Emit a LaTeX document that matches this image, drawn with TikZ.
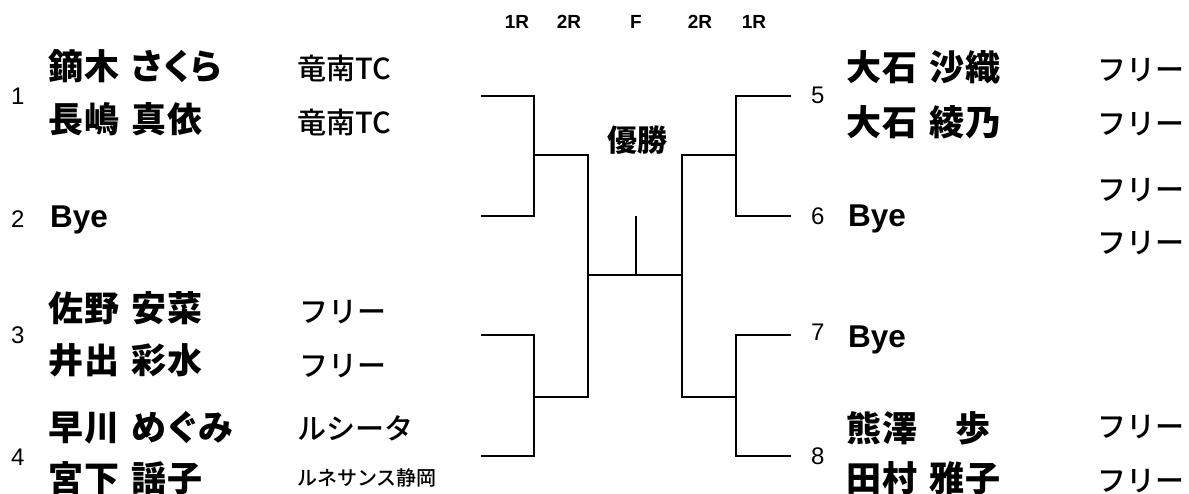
\documentclass[tikz,border=0pt]{standalone}
\usepackage{fontspec}
\setmainfont{Liberation Sans}
\newfontfamily\jp{Noto Sans CJK JP}[RawFeature=+palt,LetterSpace=4]
\newfontfamily\jpclub{Noto Sans CJK JP Medium}
\newfontfamily\jpwin{Noto Sans CJK JP}
\tikzset{
  player/.style={font={\jp\bfseries\fontsize{35}{35}\selectfont\spaceskip=12pt\relax},anchor=west,inner sep=0pt},
  club/.style={font=\jpclub\fontsize{29}{29}\selectfont,anchor=west,inner sep=0pt},
  smallclub/.style={font=\jpclub\fontsize{20}{20}\selectfont,anchor=west,inner sep=0pt},
  seed/.style={font=\fontsize{24}{24}\selectfont,anchor=west,inner sep=0pt},
  byetext/.style={font=\bfseries\fontsize{31.5}{31.5}\selectfont,anchor=base west,inner sep=0pt},
  rnd/.style={font=\bfseries\fontsize{19}{19}\selectfont,anchor=base,inner sep=0pt},
  bracket/.style={line width=2.6pt},
}
\begin{document}
\begin{tikzpicture}[x=1pt,y=-1pt]
	\useasboundingbox (0,0) rectangle (1189,494);
	\node[rnd] (h1) at (517,29) {1R};
	\node[rnd] (h2) at (569,29) {2R};
	\node[rnd] (h3) at (636,29) {F};
	\node[rnd] (h4) at (700,29) {2R};
	\node[rnd] (h5) at (754,29) {1R};
	\node[font=\jpwin\bfseries\fontsize{30}{30}\selectfont,inner sep=0pt] (win) at (637,140) {優勝};

	\node[seed] (s1) at (11,96) {1};
	\node[player] (p1a) at (48,66) {鏑木 さくら};
	\node[player] (p1b) at (48,119) {長嶋 真依};
	\node[club] (c1a) at (297,68) {竜南TC};
	\node[club] (c1b) at (297,122) {竜南TC};
	\node[seed] (s2) at (11,219) {2};
	\node[byetext] (p2) at (50,228) {Bye};
	\node[seed] (s3) at (11,335) {3};
	\node[player] (p3a) at (48,308) {佐野 安菜};
	\node[player] (p3b) at (48,360) {井出 彩水};
	\node[club] (c3a) at (299,312) {フリー};
	\node[club] (c3b) at (299,366) {フリー};
	\node[seed] (s4) at (11,457) {4};
	\node[player] (p4a) at (48,428) {早川 めぐみ};
	\node[player] (p4b) at (48,478) {宮下 謡子};
	\node[club] (c4a) at (297,428) {ルシータ};
	\node[smallclub] (c4b) at (297,478) {ルネサンス静岡};

	\node[seed] (s5) at (811,95) {5};
	\node[player] (p5a) at (846,67) {大石 沙織};
	\node[player] (p5b) at (846,122) {大石 綾乃};
	\node[club] (c5a) at (1097,70) {フリー};
	\node[club] (c5b) at (1097,124) {フリー};
	\node[seed] (s6) at (811,216) {6};
	\node[byetext] (p6) at (848,227) {Bye};
	\node[club] (c6a) at (1097,190) {フリー};
	\node[club] (c6b) at (1097,243) {フリー};
	\node[seed] (s7) at (811,332) {7};
	\node[byetext] (p7) at (848,348) {Bye};
	\node[seed] (s8) at (811,456) {8};
	\node[player] (p8a) at (846,428) {熊澤　歩};
	\node[player] (p8b) at (846,478) {田村 雅子};
	\node[club] (c8a) at (1097,427) {フリー};
	\node[club] (c8b) at (1097,481) {フリー};

	\coordinate (l1) at (481,96);
	\coordinate (l2) at (481,216);
	\coordinate (l3) at (481,335);
	\coordinate (l4) at (481,456);
	\coordinate (l12) at (534,155);
	\coordinate (l34) at (534,397);
	\coordinate (fl) at (588,275);
	\coordinate (r1) at (791,96);
	\coordinate (r2) at (791,216);
	\coordinate (r3) at (791,335);
	\coordinate (r4) at (791,456);
	\coordinate (r12) at (736,155);
	\coordinate (r34) at (736,397);
	\coordinate (fr) at (682,275);
	\coordinate (top) at (636,216);
	\coordinate (mid) at (636,275);

	\draw[bracket] (l1) -| (l12) |- (l2);
	\draw[bracket] (l3) -| (l34) |- (l4);
	\draw[bracket] (l12) -| (fl) |- (l34);
	\draw[bracket] (r1) -| (r12) |- (r2);
	\draw[bracket] (r3) -| (r34) |- (r4);
	\draw[bracket] (r12) -| (fr) |- (r34);
	\draw[bracket] (fl) -- (fr);
	\draw[bracket] (top) -- (mid);
\end{tikzpicture}
\end{document}
